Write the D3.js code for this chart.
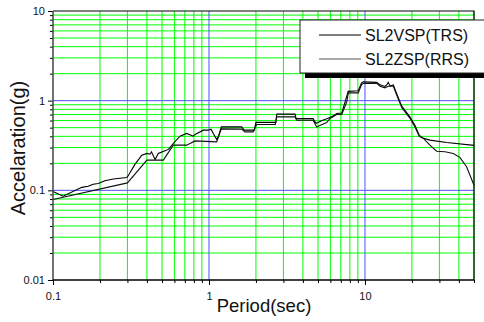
<!DOCTYPE html>
<html>
<head>
<meta charset="utf-8">
<script src="https://cdn.jsdelivr.net/npm/d3@7"></script>
<style>
  html, body { margin: 0; padding: 0; background: #fff; }
  svg { display: block; }
  text { font-family: "Liberation Sans", Arial, sans-serif; fill: #111; }
</style>
</head>
<body>
<svg id="chart" width="484" height="322"></svg>
<script>
// Response spectra: period (s) vs spectral acceleration (g)
const trsPeriod = [0.1, 0.116, 0.153, 0.168, 0.181, 0.195, 0.215, 0.244, 0.297, 0.30, 0.336, 0.371, 0.40, 0.419, 0.428, 0.451, 0.473, 0.522, 0.55, 0.59, 0.652, 0.72, 0.793, 0.82, 0.92, 0.99, 1.03, 1.09, 1.12, 1.15, 1.2, 1.62, 1.68, 1.95, 2.0, 2.68, 2.72, 3.56, 3.62, 4.65, 4.85, 5.0, 5.3, 5.7, 6.2, 6.6, 7.1, 7.5, 7.8, 9.06, 9.5, 9.75, 11.9, 12.5, 13.4, 13.8, 14.1, 14.5, 15.2, 15.9, 17.2, 19.4, 20.9, 22.3, 23.7, 26.1, 33.4, 50];
const trsAccel  = [0.097, 0.086, 0.108, 0.111, 0.117, 0.119, 0.128, 0.134, 0.139, 0.141, 0.196, 0.247, 0.258, 0.253, 0.269, 0.221, 0.258, 0.276, 0.286, 0.333, 0.402, 0.431, 0.402, 0.423, 0.469, 0.469, 0.48, 0.40, 0.37, 0.40, 0.51, 0.51, 0.469, 0.469, 0.572, 0.572, 0.707, 0.707, 0.633, 0.633, 0.56, 0.57, 0.60, 0.63, 0.67, 0.72, 0.73, 1.0, 1.27, 1.29, 1.58, 1.62, 1.60, 1.50, 1.44, 1.50, 1.60, 1.46, 1.50, 1.22, 0.87, 0.66, 0.533, 0.41, 0.38, 0.363, 0.342, 0.317];

const rrsPeriod = [0.1, 0.3, 0.40, 0.51, 0.59, 0.72, 0.813, 1.12, 1.2, 1.62, 1.70, 1.92, 2.02, 2.66, 2.72, 3.55, 3.65, 4.65, 4.9, 5.15, 5.68, 5.97, 6.59, 7.10, 7.64, 7.82, 9.06, 9.5, 9.75, 11.9, 12.5, 13.4, 14.1, 15.2, 15.9, 17.2, 19.4, 20.9, 22.3, 23.7, 26.1, 28.8, 32.6, 36.8, 40.6, 44.8, 50];
const rrsAccel  = [0.079, 0.121, 0.217, 0.217, 0.319, 0.319, 0.356, 0.347, 0.485, 0.481, 0.449, 0.449, 0.543, 0.543, 0.66, 0.66, 0.606, 0.606, 0.51, 0.53, 0.57, 0.633, 0.70, 0.70, 0.97, 1.22, 1.22, 1.50, 1.56, 1.56, 1.45, 1.39, 1.45, 1.45, 1.18, 0.84, 0.64, 0.51, 0.40, 0.379, 0.319, 0.273, 0.269, 0.258, 0.233, 0.183, 0.114];

const seriesNames = ["SL2VSP(TRS)", "SL2ZSP(RRS)"];

const xMajor = [0.1, 1, 10];
const xMajorLabels = ["0.1", "1", "10"];
const yMajor = [0.01, 0.1, 1, 10];
const yMajorLabels = ["0.01", "0.1", "1", "10"];

// minor values 2..9 in each decade
function minors(lo, hi) {
  const out = [];
  for (let d = lo; d < hi; d *= 10) {
    for (let k = 2; k <= 9; k++) {
      const v = +(k * d).toPrecision(3);
      if (v <= hi) out.push(v);
    }
  }
  return out;
}
const xMinor = minors(0.1, 50);
const yMinor = minors(0.01, 10);

const svg = d3.select("#chart");
const L = 53, R = 474, T = 11, B = 280;

const x = d3.scaleLog().domain([0.1, 50]).range([L, R]);
const y = d3.scaleLog().domain([0.01, 10]).range([B, T]);

const GREEN = "#00ff00", BLUE = "#5050ff";

// grid
const grid = svg.append("g");
grid.selectAll("line.vx").data(xMinor).join("line")
  .attr("x1", d => x(d)).attr("x2", d => x(d))
  .attr("y1", T).attr("y2", B)
  .attr("stroke", GREEN).attr("stroke-width", 1);
grid.selectAll("line.hy").data(yMinor).join("line")
  .attr("x1", L).attr("x2", R)
  .attr("y1", d => y(d)).attr("y2", d => y(d))
  .attr("stroke", GREEN).attr("stroke-width", 1);
grid.selectAll("line.vb").data([1, 10]).join("line")
  .attr("x1", d => x(d)).attr("x2", d => x(d))
  .attr("y1", T).attr("y2", B)
  .attr("stroke", BLUE).attr("stroke-width", 1);
grid.selectAll("line.hb").data([0.1, 1]).join("line")
  .attr("x1", L).attr("x2", R)
  .attr("y1", d => y(d)).attr("y2", d => y(d))
  .attr("stroke", BLUE).attr("stroke-width", 1);

// frame (top and right)
svg.append("path")
  .attr("d", `M${L},${T}H${R}V${B}`)
  .attr("fill", "none").attr("stroke", "#000").attr("stroke-width", 1.2);

// curves
const line = d3.line().x(d => x(d[0])).y(d => y(d[1]));
const trs = trsPeriod.map((p, i) => [p, trsAccel[i]]);
const rrs = rrsPeriod.map((p, i) => [p, rrsAccel[i]]);
svg.append("path").datum(trs).attr("d", line)
  .attr("fill", "none").attr("stroke", "#000").attr("stroke-width", 1.1);
svg.append("path").datum(rrs).attr("d", line)
  .attr("fill", "none").attr("stroke", "#111").attr("stroke-width", 1.1);

// axes
function styleAxis(g) {
  g.select(".domain").remove();
  g.selectAll(".tick line").attr("stroke", "#000");
  g.selectAll(".tick text").style("font-size", "11px")
    .style("font-family", "'Liberation Sans', Arial, sans-serif").attr("fill", "#222");
}
const xAxisMaj = d3.axisBottom(x).tickValues(xMajor).tickSize(5).tickPadding(7)
  .tickFormat((d, i) => xMajorLabels[i]);
const xAxisMin = d3.axisBottom(x).tickValues(xMinor).tickSize(3).tickFormat("");
svg.append("g").attr("transform", `translate(0,${B})`).call(xAxisMin).call(styleAxis);
svg.append("g").attr("transform", `translate(0,${B})`).call(xAxisMaj).call(styleAxis);

const yAxisMaj = d3.axisLeft(y).tickValues(yMajor).tickSize(5).tickPadding(3)
  .tickFormat((d, i) => yMajorLabels[i]);
const yAxisMin = d3.axisLeft(y).tickValues(yMinor).tickSize(3).tickFormat("");
svg.append("g").attr("transform", `translate(${L},0)`).call(yAxisMin).call(styleAxis);
svg.append("g").attr("transform", `translate(${L},0)`).call(yAxisMaj).call(styleAxis);

// axis lines
svg.append("line").attr("x1", L).attr("x2", L).attr("y1", T).attr("y2", B)
  .attr("stroke", "#444").attr("stroke-width", 1.5);
svg.append("line").attr("x1", L).attr("x2", R).attr("y1", B).attr("y2", B)
  .attr("stroke", "#000").attr("stroke-width", 1.5);

// axis titles
svg.append("text").attr("x", 264).attr("y", 312).attr("text-anchor", "middle")
  .style("font-size", "18.5px").text("Period(sec)");
svg.append("text").attr("transform", "translate(25,148) rotate(-90)")
  .attr("text-anchor", "middle").style("font-size", "20px").text("Accelaration(g)");

// legend with drop shadow
const lg = svg.append("g");
lg.append("rect").attr("x", 305).attr("y", 25).attr("width", 200).attr("height", 53).attr("fill", "#000");
lg.append("rect").attr("x", 300).attr("y", 20).attr("width", 200).attr("height", 53)
  .attr("fill", "#fff").attr("stroke", "#222").attr("stroke-width", 1);
const legendColors = ["#000", "#555"];
seriesNames.forEach((name, i) => {
  const cy = 35 + i * 24;
  lg.append("line").attr("x1", 319).attr("x2", 361).attr("y1", cy).attr("y2", cy)
    .attr("stroke", legendColors[i]).attr("stroke-width", 1);
  lg.append("text").attr("x", 365).attr("y", cy + 6.3).style("font-size", "16px").text(name);
});
</script>
</body>
</html>
